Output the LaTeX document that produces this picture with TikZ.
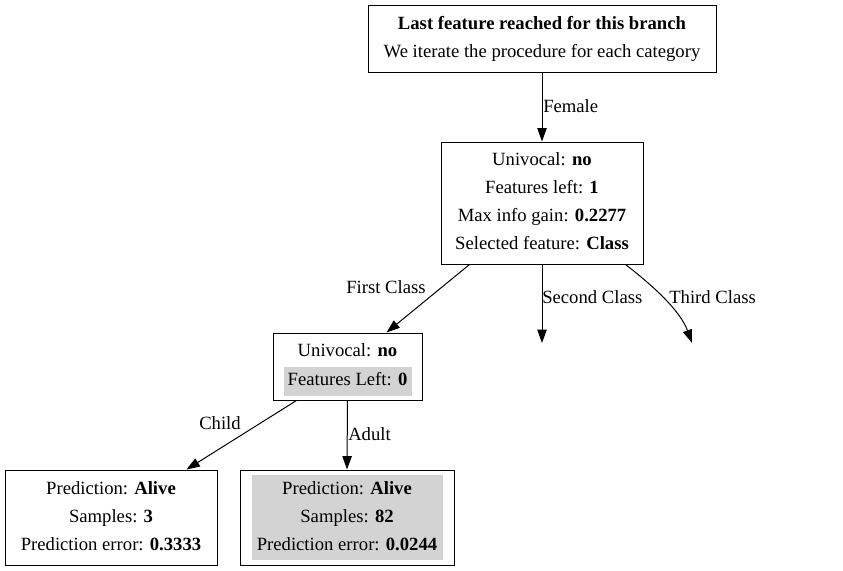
\documentclass[tikz,border=0pt]{standalone}
\usepackage{fontspec}
\setmainfont{Liberation Serif}
\usetikzlibrary{arrows.meta,fit,calc}
\definecolor{hl}{RGB}{211,211,211}
\begin{document}
\begin{tikzpicture}[x=0.75pt,y=-0.75pt,
  box/.style={draw=black,line width=0.75pt,inner sep=0pt,fill=white},
  shadebox/.style={fill=hl,draw=none,inner sep=0pt},
  txt/.style={anchor=base,inner sep=0pt,font=\fontsize{14}{17}\selectfont},
  lbl/.style={anchor=base west,inner sep=0pt,font=\fontsize{14}{17}\selectfont},
  link/.style={draw=black,line width=0.75pt,-{Triangle[length=10pt,width=7pt]}}]
\useasboundingbox (0,0) rectangle (843,571);

% boxes
\node[box,fit={(368,5) (716,72)}] (top) {};
\node[box,fit={(441,142) (643,264)}] (n2) {};
\node[box,fit={(273,333) (422,400)}] (n3) {};
\node[box,fit={(5,470) (217,565)}] (n4) {};
\node[box,fit={(240,470) (454,565)}] (n5) {};

% highlighted areas
\node[shadebox,fit={(284,367) (412,396)}] (h3) {};
\node[shadebox,fit={(252,475) (443,560)}] (h5) {};

% box texts
\node[txt] (t1) at (542,29) {\textbf{Last feature reached for this branch}};
\node[txt] (t2) at (542,57) {We iterate the procedure for each category};

\node[txt] (a1) at (542,165) {Univocal: \textbf{no}};
\node[txt] (a2) at (542,193) {Features left: \textbf{1}};
\node[txt] (a3) at (542,221) {Max info gain: \textbf{0.2277}};
\node[txt] (a4) at (542,249) {Selected feature: \textbf{Class}};

\node[txt] (b1) at (347.5,356) {Univocal: \textbf{no}};
\node[txt] (b2) at (347.5,385) {Features Left: \textbf{0}};

\node[txt] (c1) at (111,494) {Prediction: \textbf{Alive}};
\node[txt] (c2) at (111,522) {Samples: \textbf{3}};
\node[txt] (c3) at (111,550) {Prediction error: \textbf{0.3333}};

\node[txt] (d1) at (347,494) {Prediction: \textbf{Alive}};
\node[txt] (d2) at (347,522) {Samples: \textbf{82}};
\node[txt] (d3) at (347,550) {Prediction error: \textbf{0.0244}};

% open branch ends
\coordinate (e2) at (542,343);
\coordinate (e3) at (692,343);

% connectors
\draw[link] (top.south) -- (n2.north);
\draw[link] ($(n2.south west)+(29,0)$) -- ($(n3.north east)+(-36,0)$);
\draw[link] (n2.south) -- (e2);
\draw[link] ($(n2.south east)+(-18,0)$) .. controls (652,285) and (680,310) .. (e3);
\draw[link] ($(n3.south west)+(24,0)$) -- ($(n4.north east)+(-31,0)$);
\draw[link] (n3.south) -- (n5.north);

% connector labels
\node[lbl] (lf) at (543,112) {Female};
\node[lbl] (lfc) at (346,293) {First Class};
\node[lbl] (lsc) at (542,303) {Second Class};
\node[lbl] (ltc) at (669,303) {Third Class};
\node[lbl] (lch) at (199,429) {Child};
\node[lbl] (lad) at (348,440) {Adult};
\end{tikzpicture}
\end{document}
